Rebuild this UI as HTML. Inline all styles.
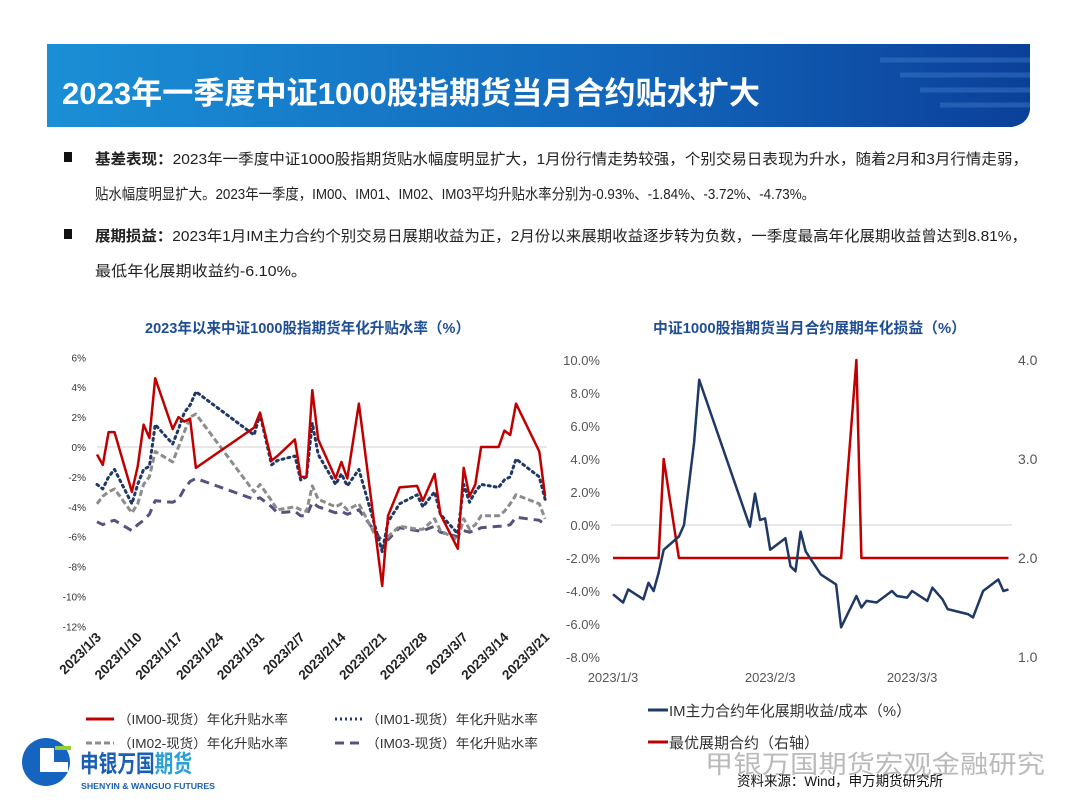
<!DOCTYPE html>
<html><head><meta charset="utf-8"><style>
html,body{margin:0;padding:0;background:#fff;}
svg{display:block;font-family:"Liberation Sans","Noto Sans CJK SC",sans-serif;}
</style></head><body>
<svg id="page" width="1080" height="808" viewBox="0 0 1080 808" xmlns="http://www.w3.org/2000/svg">
<defs>
<linearGradient id="hg" x1="0" x2="1" y1="0" y2="0">
<stop offset="0" stop-color="#1a8fd6"/><stop offset="0.6" stop-color="#1266bb"/><stop offset="1" stop-color="#0b3f9a"/>
</linearGradient>
</defs>
<g>
<path d="M47 44 H1030 V110 Q1028 124 1012 127 H47 Z" fill="url(#hg)"/>
<path d="M880 60 H1030 M900 75 H1030 M920 90 H1030 M940 105 H1030" stroke="#3a78c8" stroke-width="5" opacity="0.5"/>
<text x="62" y="104" font-size="31" font-weight="bold" fill="#fff" textLength="698" lengthAdjust="spacingAndGlyphs">2023年一季度中证1000股指期货当月合约贴水扩大</text>
</g>
<g font-size="15" fill="#222">
<rect x="64" y="152" width="8" height="10" fill="#111"/>
<text x="95" y="164" textLength="933" lengthAdjust="spacingAndGlyphs"><tspan font-weight="bold">基差表现：</tspan>2023年一季度中证1000股指期货贴水幅度明显扩大，1月份行情走势较强，个别交易日表现为升水，随着2月和3月行情走弱，</text>
<text x="95" y="199" textLength="720" lengthAdjust="spacingAndGlyphs">贴水幅度明显扩大。2023年一季度，IM00、IM01、IM02、IM03平均升贴水率分别为-0.93%、-1.84%、-3.72%、-4.73%。</text>
<rect x="64" y="229" width="8" height="10" fill="#111"/>
<text x="95" y="241" textLength="932" lengthAdjust="spacingAndGlyphs"><tspan font-weight="bold">展期损益：</tspan>2023年1月IM主力合约个别交易日展期收益为正，2月份以来展期收益逐步转为负数，一季度最高年化展期收益曾达到8.81%，</text>
<text x="95" y="276" textLength="212" lengthAdjust="spacingAndGlyphs">最低年化展期收益约-6.10%。</text>
</g>
<text x="145" y="333" font-size="15" font-weight="bold" fill="#1f4e96" textLength="325" lengthAdjust="spacingAndGlyphs">2023年以来中证1000股指期货年化升贴水率（%）</text>
<text x="653" y="333" font-size="15" font-weight="bold" fill="#1f4e96" textLength="313" lengthAdjust="spacingAndGlyphs">中证1000股指期货当月合约展期年化损益（%）</text>
<g id="left"></g>
<g id="right"></g>
<g font-size="13" fill="#333">
<line x1="86" y1="719" x2="114" y2="719" stroke="#c00000" stroke-width="3"/>
<text x="118" y="724" textLength="170" lengthAdjust="spacingAndGlyphs">（IM00-现货）年化升贴水率</text>
<line x1="335" y1="719" x2="363" y2="719" stroke="#1f3864" stroke-width="3" stroke-dasharray="2,3"/>
<text x="366" y="724" textLength="172" lengthAdjust="spacingAndGlyphs">（IM01-现货）年化升贴水率</text>
<line x1="86" y1="743" x2="114" y2="743" stroke="#8c8c8c" stroke-width="3" stroke-dasharray="6,3"/>
<text x="118" y="748" textLength="170" lengthAdjust="spacingAndGlyphs">（IM02-现货）年化升贴水率</text>
<line x1="335" y1="743" x2="363" y2="743" stroke="#5a5080" stroke-width="3" stroke-dasharray="9,6"/>
<text x="366" y="748" textLength="172" lengthAdjust="spacingAndGlyphs">（IM03-现货）年化升贴水率</text>
</g>
<g font-size="15" fill="#333">
<line x1="648" y1="710" x2="668" y2="710" stroke="#1f3864" stroke-width="3"/>
<text x="669" y="716" textLength="242" lengthAdjust="spacingAndGlyphs">IM主力合约年化展期收益/成本（%）</text>
<line x1="648" y1="742" x2="668" y2="742" stroke="#c00000" stroke-width="3"/>
<text x="669" y="748" textLength="150" lengthAdjust="spacingAndGlyphs">最优展期合约（右轴）</text>
</g>
<g>
<circle cx="46" cy="762" r="24" fill="#1565c0"/>
<path d="M40 748 h14 v14 h14 v10 h-28 Z" fill="#fff"/>
<rect x="55" y="746" width="16" height="4" fill="#9acd32"/>
<text x="80" y="772" font-size="24" font-weight="bold" fill="#1a5fb4" textLength="112" lengthAdjust="spacingAndGlyphs">申银万国<tspan fill="#2a9fd8">期货</tspan></text>
<text x="81" y="789" font-size="8" font-weight="bold" fill="#1a5fb4" textLength="134" lengthAdjust="spacingAndGlyphs">SHENYIN &amp; WANGUO FUTURES</text>
</g>
<text x="705" y="773" font-size="25" fill="#aaa" opacity="0.8" textLength="340" lengthAdjust="spacingAndGlyphs">甲银万国期货宏观金融研究</text>
<text x="737" y="786" font-size="14" fill="#111" textLength="206" lengthAdjust="spacingAndGlyphs">资料来源：Wind，申万期货研究所</text>
</svg>
<script>
// ---- left chart data ----
const leftDays = [0,1,2,3,6,7,8,9,10,13,14,15,16,17,27,28,30,31,34,35,36,37,38,41,42,43,45,49,50,52,55,56,58,59,62,63,64,65,66,69,70,71,72,76,77];
const im00 = [-0.5,-1.2,1.0,1.0,-3.0,-1.3,1.5,0.6,4.6,1.2,2.0,1.7,1.9,-1.4,1.3,2.3,-0.9,-0.6,0.5,-2.0,-2.0,3.8,0.5,-2.1,-1.0,-2.1,2.9,-9.3,-4.6,-2.7,-2.6,-3.6,-1.8,-4.5,-6.8,-1.4,-3.3,-2.5,0.0,0.0,1.1,0.8,2.9,-0.3,-3.3];
const im01 = [-2.5,-2.8,-2.0,-1.5,-3.8,-2.5,-1.5,-1.3,1.5,0.2,1.2,2.3,2.8,3.7,0.8,2.2,-1.2,-0.9,-0.6,-2.2,-2.0,1.6,-0.5,-2.5,-1.8,-2.6,-1.5,-7.0,-5.0,-3.8,-3.2,-4.0,-3.0,-4.5,-5.8,-2.5,-3.7,-3.0,-2.5,-2.7,-2.2,-2.0,-0.8,-2.0,-3.5];
const im02 = [-3.8,-3.3,-3.0,-2.8,-4.4,-3.8,-2.5,-2.0,-0.3,-1.0,0.0,1.0,2.0,2.2,-3.0,-2.5,-3.6,-4.2,-4.0,-4.2,-4.3,-2.6,-3.5,-4.0,-3.8,-4.2,-3.8,-6.8,-6.0,-5.3,-5.5,-5.5,-4.8,-5.6,-6.2,-4.8,-5.5,-5.2,-4.6,-4.6,-4.3,-3.8,-3.2,-3.8,-4.8];
const im03 = [-5.0,-5.2,-5.0,-4.9,-5.6,-5.2,-4.9,-4.5,-3.6,-3.7,-3.5,-2.8,-2.3,-2.1,-3.5,-3.4,-4.0,-4.4,-4.3,-4.6,-4.6,-3.7,-4.0,-4.4,-4.3,-4.5,-4.2,-6.3,-6.2,-5.4,-5.6,-5.6,-5.3,-5.7,-6.0,-5.6,-5.7,-5.6,-5.4,-5.3,-5.3,-5.2,-4.7,-4.9,-5.2];
const leftYTicks = [6,4,2,0,-2,-4,-6,-8,-10,-12];
const leftXLabels = ["2023/1/3","2023/1/10","2023/1/17","2023/1/24","2023/1/31","2023/2/7","2023/2/14","2023/2/21","2023/2/28","2023/3/7","2023/3/14","2023/3/21"];
const leftXLabelDays = [0,7,14,21,28,35,42,49,56,63,70,77];
// ---- right chart data ----
const rightDays = [0,2,3,6,7,8,9,10,13,14,16,17,27,28,29,30,31,34,35,36,37,38,41,42,44,45,48,49,50,52,55,56,58,59,62,63,65,66,70,71,73,76,77,78];
const rollYield = [-4.2,-4.7,-3.9,-4.5,-3.5,-4.0,-2.9,-1.5,-0.7,0.0,5.0,8.8,-0.1,1.9,0.3,0.4,-1.5,-0.8,-2.5,-2.8,-0.4,-1.6,-3.0,-3.2,-3.6,-6.2,-4.3,-5.0,-4.6,-4.7,-4.0,-4.3,-4.4,-4.0,-4.6,-3.8,-4.5,-5.1,-5.4,-5.6,-4.0,-3.3,-4.0,-3.9];
const bestDays = [0,9,10,13,45,48,49,78];
const bestContract = [2,2,3,2,2,4,2,2];
const rightYTicks = [10,8,6,4,2,0,-2,-4,-6,-8];
const rightY2Ticks = [4,3,2,1];
const rightXLabels = ["2023/1/3","2023/2/3","2023/3/3"];
const rightXLabelDays = [0,31,59];

const NS="http://www.w3.org/2000/svg";
function mk(parent,tag,attrs){const e=document.createElementNS(NS,tag);for(const k in attrs)e.setAttribute(k,attrs[k]);parent.appendChild(e);return e;}

// left axes
const Lx=d=>97+d*5.82, Ly=v=>447-v*14.95;
const L=document.getElementById('left');
const z=mk(L,'line',{x1:97,x2:547,y1:Ly(0),y2:Ly(0),stroke:'#d0d0d0','stroke-width':1});


leftYTicks.forEach(v=>{const t=mk(L,'text',{x:86,y:Ly(v)+4,'font-size':10,'text-anchor':'end',fill:'#333'});t.textContent=v+'%';

});
leftXLabels.forEach((s,i)=>{const x=Lx(leftXLabelDays[i]);const t=mk(L,'text',{x:x+5,y:638,'font-size':13.5,'font-weight':'bold','text-anchor':'end',fill:'#222',transform:`rotate(-45 ${x+5} 638)`});t.textContent=s;

});
function series(parent,xs,ys,fx,fy,attrs,name){const d=xs.map((x,i)=>(i?'L':'M')+fx(x).toFixed(1)+' '+fy(ys[i]).toFixed(1)).join(' ');
const p=mk(parent,'path',Object.assign({d:d,fill:'none','stroke-linejoin':'round'},attrs));

}
series(L,leftDays,im03,Lx,Ly,{stroke:'#5a5080','stroke-width':3,'stroke-dasharray':'9,6'},'im03-line');
series(L,leftDays,im02,Lx,Ly,{stroke:'#8c8c8c','stroke-width':3,'stroke-dasharray':'6,3'},'im02-line');
series(L,leftDays,im01,Lx,Ly,{stroke:'#1f3864','stroke-width':3,'stroke-dasharray':'2,4','stroke-linecap':'round'},'im01-line');
series(L,leftDays,im00,Lx,Ly,{stroke:'#c00000','stroke-width':2.5},'im00-line');

// right axes
const Rx=d=>613+d*5.07, Ry=v=>525-v*16.5, Ry2=v=>657-(v-1)*99;
const R=document.getElementById('right');
const z2=mk(R,'line',{x1:611,x2:1012,y1:Ry(0),y2:Ry(0),stroke:'#d0d0d0','stroke-width':1});


rightYTicks.forEach(v=>{const t=mk(R,'text',{x:600,y:Ry(v)+5,'font-size':13,'text-anchor':'end',fill:'#555'});t.textContent=v.toFixed(1)+'%';

});
rightY2Ticks.forEach(v=>{const t=mk(R,'text',{x:1018,y:Ry2(v)+5,'font-size':14,fill:'#555'});t.textContent=v.toFixed(1);

});
rightXLabels.forEach((s,i)=>{const t=mk(R,'text',{x:Rx(rightXLabelDays[i]),y:682,'font-size':13,'text-anchor':'middle',fill:'#555'});t.textContent=s;

});
series(R,bestDays,bestContract,Rx,Ry2,{stroke:'#c00000','stroke-width':2.5},'best-contract-line');
series(R,rightDays,rollYield,Rx,Ry,{stroke:'#1f3864','stroke-width':2.5},'roll-yield-line');
</script>
</body></html>
